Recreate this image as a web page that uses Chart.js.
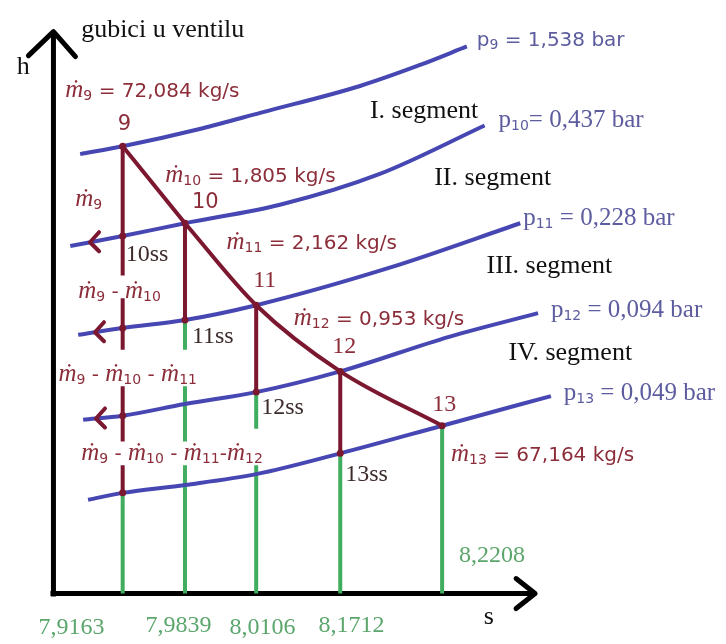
<!DOCTYPE html>
<html lang="hr">
<head>
<meta charset="UTF-8">
<title>h-s dijagram - gubici u ventilu</title>
<script src="https://cdn.jsdelivr.net/npm/chart.js"></script>
<style>
  html, body { margin: 0; padding: 0; background: #fff; }
  #wrap { width: 726px; height: 644px; }
</style>
</head>
<body>
<div id="wrap"><canvas id="hs"></canvas></div>
<script>
// state points 9..13 (schematic position in the h-s sketch, origin = axis corner)
const states = ['9', '10', '11', '12', '13'];
const stateS = [70, 133, 205, 290, 393];
const stateH = [453, 375, 292, 225, 170];

// entropy values written under the columns
const sLabels = ['7,9163', '7,9839', '8,0106', '8,1712', '8,2208'];

// mass flows
const massFlows = ['72,084', '1,805', '2,162', '0,953', '67,164'];

// isobars p9..p13
const pressures = ['1,538', '0,437', '0,228', '0,094', '0,049'];
const isoS = [
  [27, 70, 150, 210, 310, 370, 418],
  [17, 70, 133, 230, 330, 436],
  [25, 70, 133, 205, 340, 472],
  [30, 70, 133, 205, 290, 400, 490],
  [35, 70, 133, 205, 290, 393, 503]
];
const isoH = [
  [445, 453, 471, 487, 514, 535, 554],
  [352, 362, 375, 394, 425, 474],
  [262, 269, 277, 292, 330, 375],
  [176, 180, 192, 204, 225, 260, 284],
  [95, 102, 110, 121, 142, 170, 200]
];

// isentropic end points 10ss..13ss
const ssNames = ['10ss', '11ss', '12ss', '13ss'];
const ssS = [70, 133, 205, 290];
const ssH = [362, 277, 204, 142];

// vertical segments of each column [hTop, hBottom]
const redSegs = [
  [[453, 322], [299, 247], [210, 154], [130, 102]],
  [[375, 277]],
  [[292, 204]],
  [[225, 142]],
  []
];
const greenSegs = [
  [[102, 0]],
  [[277, 247], [210, 154], [130, 0]],
  [[204, 167], [130, 0]],
  [[142, 0]],
  [[170, 0]]
];

// extraction arrows on the isobars p10, p11, p12
const arrowS = [37, 42, 43];

const segments = ['I. segment', 'II. segment', 'III. segment', 'IV. segment'];

const RED = '#7b1830', RED_TXT = '#8c2d3a';
const BLUE = '#4747b3', BLUE_TXT = '#5c5c9f';
const GREEN = '#40ad5f', GREEN_TXT = '#5ba66c';
const SS_TXT = '#3d2c2c';

const SERIF = '"Liberation Serif", "DejaVu Serif", serif';
const SANS = '"DejaVu Sans", sans-serif';
const M_FONT = 'italic 25px ' + SERIF;

function line(pts, color, width, order, smooth) {
  return {
    data: pts, showLine: true, borderColor: color, borderWidth: width,
    pointRadius: 0, order: order, fill: false, borderCapStyle: 'butt',
    cubicInterpolationMode: smooth ? 'monotone' : 'default', tension: 0
  };
}
const pts = (xs, ys) => xs.map((v, i) => ({ x: v, y: ys[i] }));

function isoAt(k, s) {
  const xs = isoS[k], ys = isoH[k];
  for (let i = 0; i < xs.length - 1; i++) {
    if (s >= xs[i] && s <= xs[i + 1]) {
      return ys[i] + (ys[i + 1] - ys[i]) * (s - xs[i]) / (xs[i + 1] - xs[i]);
    }
  }
  return ys[0];
}

const datasets = [];
// axes
datasets.push(line([{ x: 0, y: -3 }, { x: 0, y: 568 }], '#000', 5, 6));
datasets.push(line([{ x: -3, y: 0 }, { x: 485, y: 0 }], '#000', 5, 6));
// column verticals
stateS.forEach((s, i) => {
  greenSegs[i].forEach(g => datasets.push(line([{ x: s, y: g[0] }, { x: s, y: g[1] }], GREEN, 4, 5)));
  redSegs[i].forEach(r => datasets.push(line([{ x: s, y: r[0] }, { x: s, y: r[1] }], RED, 4, 3)));
});
// isobars
isoS.forEach((xs, k) => datasets.push(line(pts(xs, isoH[k]), BLUE, 4, 4, true)));
// expansion line 9 - 10 - 11 - 12 - 13
datasets.push(line(pts(stateS.slice(0, 2), stateH.slice(0, 2)), RED, 4, 2));
datasets.push(line(pts(stateS.slice(1), stateH.slice(1)), RED, 4, 2, true));
// dots on the crossings
const dots = pts(stateS, stateH).concat(pts(ssS, ssH));
[2, 3, 4].forEach(k => dots.push({ x: stateS[0], y: isoAt(k, stateS[0]) }));
datasets.push({ data: dots, showLine: false, pointRadius: 3.5, pointBackgroundColor: RED, pointBorderWidth: 0, order: 1 });

const flow = (i) => 'ṁ{' + states[i] + '}';
const labels = [
  { t: 'gubici u ventilu', s: 28, h: 564, c: '#111', f: '26px ' + SERIF },
  { t: 'h', s: -37, h: 526, c: '#111', f: '26px ' + SERIF },
  { t: 's', s: 435, h: -31, c: '#111', f: '26px ' + SERIF },
  { t: flow(0) + ' = ' + massFlows[0] + ' kg/s', s: 12, h: 503, c: RED_TXT, f: '20px ' + SANS },
  { t: flow(1) + ' = ' + massFlows[1] + ' kg/s', s: 113, h: 417, c: RED_TXT, f: '20px ' + SANS },
  { t: flow(2) + ' = ' + massFlows[2] + ' kg/s', s: 175, h: 349, c: RED_TXT, f: '20px ' + SANS },
  { t: flow(3) + ' = ' + massFlows[3] + ' kg/s', s: 243, h: 272, c: RED_TXT, f: '20px ' + SANS },
  { t: flow(4) + ' = ' + massFlows[4] + ' kg/s', s: 402, h: 134, c: RED_TXT, f: '20px ' + SANS },
  { t: flow(0), s: 22, h: 392, c: RED_TXT, f: '20px ' + SANS },
  { t: flow(0) + ' - ' + flow(1), s: 25, h: 299, c: RED_TXT, f: '20px ' + SANS },
  { t: flow(0) + ' - ' + flow(1) + ' - ' + flow(2), s: 5, h: 215, c: RED_TXT, f: '20px ' + SANS },
  { t: flow(0) + ' - ' + flow(1) + ' - ' + flow(2) + '-' + flow(3), s: 28, h: 135, c: RED_TXT, f: '20px ' + SANS },
  { t: states[0], s: 65, h: 469, c: RED_TXT, f: '21px ' + SANS },
  { t: states[1], s: 140, h: 390, c: RED_TXT, f: '21px ' + SANS },
  { t: states[2], s: 202, h: 310, c: RED_TXT, f: '24px ' + SERIF },
  { t: states[3], s: 282, h: 244, c: RED_TXT, f: '24px ' + SERIF },
  { t: states[4], s: 383, h: 185, c: RED_TXT, f: '24px ' + SERIF },
  { t: ssNames[0], s: 73, h: 337, c: SS_TXT, f: '24px ' + SERIF },
  { t: ssNames[1], s: 140, h: 254, c: SS_TXT, f: '24px ' + SERIF },
  { t: ssNames[2], s: 210, h: 182, c: SS_TXT, f: '24px ' + SERIF },
  { t: ssNames[3], s: 295, h: 114, c: SS_TXT, f: '24px ' + SERIF },
  { t: sLabels[0], s: -15, h: -41, c: GREEN_TXT, f: '24px ' + SERIF },
  { t: sLabels[1], s: 93, h: -39, c: GREEN_TXT, f: '24px ' + SERIF },
  { t: sLabels[2], s: 178, h: -41, c: GREEN_TXT, f: '24px ' + SERIF },
  { t: sLabels[3], s: 268, h: -39, c: GREEN_TXT, f: '24px ' + SERIF },
  { t: sLabels[4], s: 410, h: 32, c: GREEN_TXT, f: '24px ' + SERIF },
  { t: 'p{9} = ' + pressures[0] + ' bar', s: 428, h: 554, c: BLUE_TXT, f: '20px ' + SANS },
  { t: 'p{10}= ' + pressures[1] + ' bar', s: 450, h: 472, c: BLUE_TXT, f: '25px ' + SERIF },
  { t: 'p{11} = ' + pressures[2] + ' bar', s: 475, h: 373, c: BLUE_TXT, f: '25px ' + SERIF },
  { t: 'p{12} = ' + pressures[3] + ' bar', s: 503, h: 280, c: BLUE_TXT, f: '25px ' + SERIF },
  { t: 'p{13} = ' + pressures[4] + ' bar', s: 516, h: 196, c: BLUE_TXT, f: '25px ' + SERIF },
  { t: segments[0], s: 320, h: 482, c: '#111', f: '26px ' + SERIF },
  { t: segments[1], s: 385, h: 414, c: '#111', f: '26px ' + SERIF },
  { t: segments[2], s: 438, h: 325, c: '#111', f: '26px ' + SERIF },
  { t: segments[3], s: 460, h: 237, c: '#111', f: '26px ' + SERIF }
];

// text with italic m-dot and {n} subscripts
function drawRich(ctx, str, x, y, font, color) {
  ctx.fillStyle = color;
  let cx = x;
  str.split(/(ṁ|\{\d+\})/).filter(Boolean).forEach(p => {
    let f = font, dy = 0, txt = p;
    if (p === 'ṁ') {
      f = M_FONT;
    } else if (p[0] === '{') {
      txt = p.slice(1, -1);
      f = '14px ' + SANS;
      dy = 3;
    }
    ctx.font = f;
    ctx.fillText(txt, cx, y + dy);
    cx += ctx.measureText(txt).width;
  });
}

const sketch = {
  id: 'sketch',
  afterDatasetsDraw(chart) {
    const { ctx, scales: { x, y } } = chart;
    ctx.save();
    ctx.lineCap = 'round';
    ctx.lineJoin = 'round';

    // axis arrow heads
    ctx.strokeStyle = '#000';
    ctx.lineWidth = 5;
    let tx = x.getPixelForValue(0), ty = y.getPixelForValue(569);
    ctx.beginPath();
    ctx.moveTo(tx - 25, ty + 24); ctx.lineTo(tx, ty); ctx.lineTo(tx + 22, ty + 25);
    ctx.stroke();
    tx = x.getPixelForValue(487); ty = y.getPixelForValue(0);
    ctx.beginPath();
    ctx.moveTo(tx - 19, ty - 15); ctx.lineTo(tx, ty); ctx.lineTo(tx - 19, ty + 15);
    ctx.stroke();

    // extraction arrows on the isobars
    ctx.strokeStyle = RED;
    ctx.lineWidth = 4;
    arrowS.forEach((s, i) => {
      const ax = x.getPixelForValue(s), ay = y.getPixelForValue(isoAt(i + 1, s));
      ctx.beginPath();
      ctx.moveTo(ax + 9, ay - 10); ctx.lineTo(ax, ay); ctx.lineTo(ax + 9, ay + 9);
      ctx.stroke();
    });

    // texts
    ctx.textBaseline = 'alphabetic';
    ctx.textAlign = 'left';
    labels.forEach(l => drawRich(ctx, l.t, x.getPixelForValue(l.s), y.getPixelForValue(l.h), l.f, l.c));
    ctx.restore();
  }
};

new Chart(document.getElementById('hs'), {
  type: 'scatter',
  data: { datasets: datasets },
  options: {
    responsive: true,
    maintainAspectRatio: false,
    animation: false,
    layout: { padding: 0 },
    plugins: { legend: { display: false }, tooltip: { enabled: false } },
    scales: {
      x: { type: 'linear', min: -50, max: 676, display: false },
      y: { type: 'linear', min: -47, max: 597, display: false }
    }
  },
  plugins: [sketch]
});
</script>
</body>
</html>
